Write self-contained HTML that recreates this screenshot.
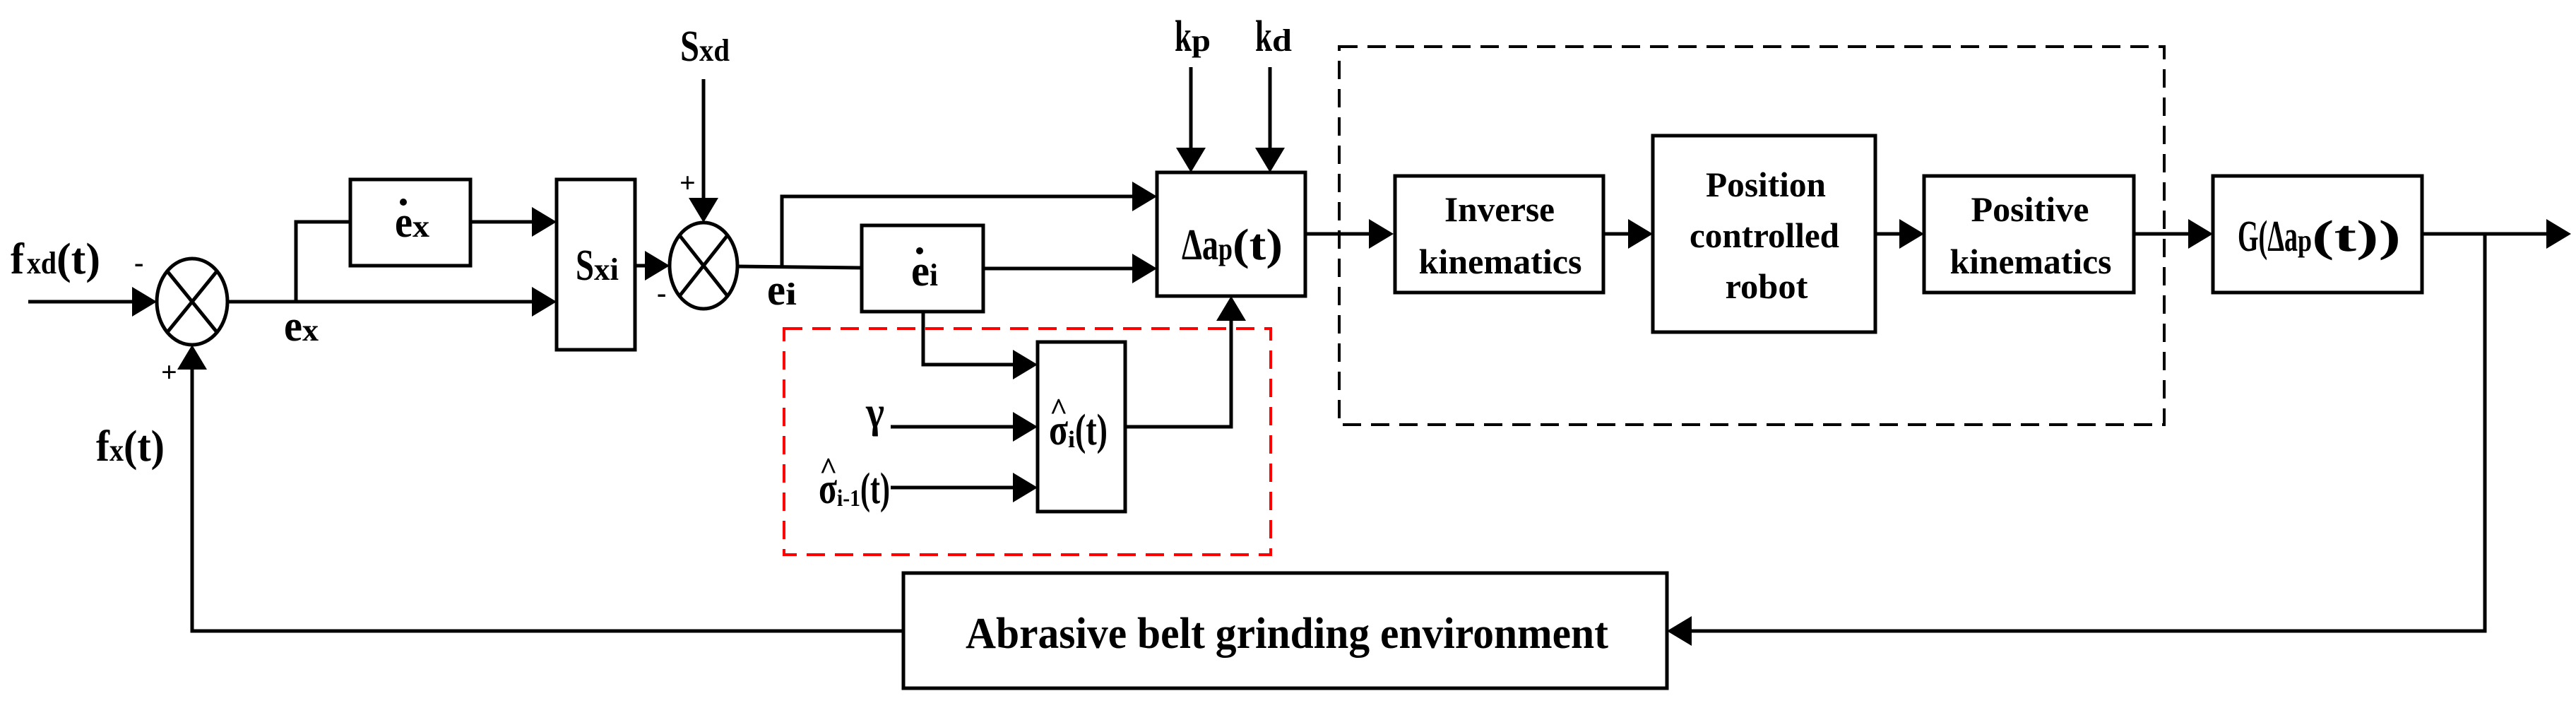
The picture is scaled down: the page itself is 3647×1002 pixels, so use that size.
<!DOCTYPE html>
<html><head><meta charset="utf-8"><style>html,body{margin:0;padding:0;background:#fff}svg{display:block}text{font-family:"Liberation Serif",serif;font-weight:bold;fill:#000}</style></head>
<body>
<svg width="3647" height="1002" viewBox="0 0 3647 1002" xmlns="http://www.w3.org/2000/svg">
<g fill="none" stroke="#000" stroke-width="5">
<!-- summing junctions -->
<ellipse cx="272" cy="427" rx="50" ry="61"/>
<line x1="237" y1="384" x2="307" y2="470"/><line x1="307" y1="384" x2="237" y2="470"/>
<ellipse cx="996" cy="376" rx="48" ry="61"/>
<line x1="962" y1="333" x2="1030" y2="419"/><line x1="1030" y1="333" x2="962" y2="419"/>
<!-- boxes -->
<rect x="496" y="254" width="170" height="122"/>
<rect x="788" y="254" width="111" height="241"/>
<rect x="1220" y="319" width="172" height="122"/>
<rect x="1638" y="244" width="210" height="175"/>
<rect x="1469" y="484" width="124" height="240"/>
<rect x="1975" y="249" width="295" height="165"/>
<rect x="2340" y="192" width="315" height="278"/>
<rect x="2724" y="249" width="297" height="165"/>
<rect x="3133" y="249" width="296" height="165"/>
<rect x="1279" y="811" width="1081" height="163"/>
<!-- lines -->
<polyline points="40,427 200,427"/>
<polyline points="322,427 760,427"/>
<polyline points="419,427 419,314 496,314"/>
<polyline points="666,314 760,314"/>
<polyline points="899,376 915,376"/>
<polyline points="996,112 996,285"/>
<polyline points="272,515 272,893 1279,893"/>
<polyline points="1044,377 1220,379"/>
<polyline points="1107,377 1107,278 1610,278"/>
<polyline points="1392,380 1610,380"/>
<polyline points="1686,95 1686,215"/><polyline points="1798,95 1798,215"/>
<polyline points="1307,441 1307,516 1440,516"/>
<polyline points="1261,604 1440,604"/>
<polyline points="1261,690 1440,690"/>
<polyline points="1593,604 1743,604 1743,448"/>
<polyline points="1848,331 1945,331"/>
<polyline points="2270,331 2310,331"/><polyline points="2655,331 2694,331"/><polyline points="3021,331 3103,331"/>
<polyline points="3429,331 3605,331"/>
<polyline points="3518,331 3518,893 2390,893"/>
</g>
<!-- dashed boxes -->
<rect x="1896" y="66" width="1168" height="535" fill="none" stroke="#000" stroke-width="4" stroke-dasharray="26,14"/>
<rect x="1110" y="465" width="689" height="320" fill="none" stroke="#f00" stroke-width="4" stroke-dasharray="26,14"/>
<!-- arrowheads -->
<g fill="#000">
<polygon points="222,427 187,406 187,448"/>
<polygon points="788,314 753,293 753,335"/>
<polygon points="788,427 753,406 753,448"/>
<polygon points="948,376 913,355 913,397"/>
<polygon points="996,315 975,280 1017,280"/>
<polygon points="272,488 251,523 293,523"/>
<polygon points="1638,278 1603,257 1603,299"/>
<polygon points="1638,380 1603,359 1603,401"/>
<polygon points="1686,244 1665,209 1707,209"/>
<polygon points="1798,244 1777,209 1819,209"/>
<polygon points="1743,419 1722,454 1764,454"/>
<polygon points="1469,516 1434,495 1434,537"/>
<polygon points="1469,604 1434,583 1434,625"/>
<polygon points="1469,690 1434,669 1434,711"/>
<polygon points="1973,331 1938,310 1938,352"/>
<polygon points="2340,331 2305,310 2305,352"/>
<polygon points="2724,331 2689,310 2689,352"/>
<polygon points="3133,331 3098,310 3098,352"/>
<polygon points="3640,331 3605,310 3605,352"/>
<polygon points="2360,893 2395,872 2395,914"/>
</g>
<!-- labels -->
<g font-size="62">
<text x="15" y="387" textLength="19" lengthAdjust="spacingAndGlyphs">f</text>
<text x="38" y="387" font-size="44" textLength="42" lengthAdjust="spacingAndGlyphs">xd</text>
<text x="80" y="387" textLength="62" lengthAdjust="spacingAndGlyphs">(t)</text>
<text x="190" y="385" font-size="40">-</text>
<text x="228" y="540" font-size="40">+</text>
<text x="136" y="652" textLength="19" lengthAdjust="spacingAndGlyphs">f</text>
<text x="155" y="652" font-size="44" textLength="20" lengthAdjust="spacingAndGlyphs">x</text>
<text x="175" y="652" textLength="58" lengthAdjust="spacingAndGlyphs">(t)</text>
<text x="402" y="482" textLength="26" lengthAdjust="spacingAndGlyphs">e</text>
<text x="428" y="482" font-size="44" textLength="23" lengthAdjust="spacingAndGlyphs">x</text>
<text x="559" y="335" textLength="25" lengthAdjust="spacingAndGlyphs">e</text>
<circle cx="571" cy="286" r="5" fill="#000"/>
<text x="584" y="335" font-size="44" textLength="24" lengthAdjust="spacingAndGlyphs">x</text>
<text x="815" y="396" textLength="26" lengthAdjust="spacingAndGlyphs">S</text>
<text x="841" y="396" font-size="44" textLength="35" lengthAdjust="spacingAndGlyphs">xi</text>
<text x="963" y="86" textLength="27" lengthAdjust="spacingAndGlyphs">S</text>
<text x="990" y="86" font-size="44" textLength="43" lengthAdjust="spacingAndGlyphs">xd</text>
<text x="930" y="428" font-size="40">-</text>
<text x="962" y="272" font-size="40">+</text>
<text x="1086" y="431" textLength="26" lengthAdjust="spacingAndGlyphs">e</text>
<text x="1112" y="431" font-size="44" textLength="16" lengthAdjust="spacingAndGlyphs">i</text>
<text x="1290" y="404" textLength="26" lengthAdjust="spacingAndGlyphs">e</text>
<circle cx="1302" cy="355" r="5" fill="#000"/>
<text x="1316" y="404" font-size="44" textLength="12" lengthAdjust="spacingAndGlyphs">i</text>
<text x="1673" y="367" textLength="52" lengthAdjust="spacingAndGlyphs">Δa</text>
<text x="1725" y="367" font-size="44" textLength="20" lengthAdjust="spacingAndGlyphs">p</text>
<text x="1745" y="367" textLength="71" lengthAdjust="spacingAndGlyphs">(t)</text>
<text x="1663" y="72" textLength="24" lengthAdjust="spacingAndGlyphs">k</text>
<text x="1687" y="72" font-size="44" textLength="27" lengthAdjust="spacingAndGlyphs">p</text>
<text x="1777" y="72" textLength="24" lengthAdjust="spacingAndGlyphs">k</text>
<text x="1801" y="72" font-size="44" textLength="28" lengthAdjust="spacingAndGlyphs">d</text>
<text x="1226" y="604" textLength="26" lengthAdjust="spacingAndGlyphs">γ</text>
<text x="1159" y="712" textLength="26" lengthAdjust="spacingAndGlyphs">σ</text>
<text x="1160" y="678" font-size="44">^</text>
<text x="1185" y="716" font-size="34" textLength="33" lengthAdjust="spacingAndGlyphs">i-1</text>
<text x="1218" y="712" textLength="42" lengthAdjust="spacingAndGlyphs">(t)</text>
<text x="1485" y="629" textLength="27" lengthAdjust="spacingAndGlyphs">σ</text>
<text x="1486" y="594" font-size="44">^</text>
<text x="1512" y="633" font-size="34" textLength="10" lengthAdjust="spacingAndGlyphs">i</text>
<text x="1522" y="629" textLength="46" lengthAdjust="spacingAndGlyphs">(t)</text>
<text x="3168" y="355" textLength="85" lengthAdjust="spacingAndGlyphs">G(Δa</text>
<text x="3253" y="355" font-size="44" textLength="20" lengthAdjust="spacingAndGlyphs">p</text>
<text x="3273" y="355" textLength="126" lengthAdjust="spacingAndGlyphs">(t))</text>
</g>
<g font-size="50" text-anchor="middle">
<text x="2123" y="313" textLength="156" lengthAdjust="spacingAndGlyphs">Inverse</text>
<text x="2124" y="387" textLength="231" lengthAdjust="spacingAndGlyphs">kinematics</text>
<text x="2500" y="278" textLength="170" lengthAdjust="spacingAndGlyphs">Position</text>
<text x="2498" y="350" textLength="212" lengthAdjust="spacingAndGlyphs">controlled</text>
<text x="2501" y="422" textLength="117" lengthAdjust="spacingAndGlyphs">robot</text>
<text x="2874" y="313" textLength="167" lengthAdjust="spacingAndGlyphs">Positive</text>
<text x="2875" y="387" textLength="229" lengthAdjust="spacingAndGlyphs">kinematics</text>
</g>
<text x="1367" y="917" font-size="62" textLength="910" lengthAdjust="spacingAndGlyphs">Abrasive belt grinding environment</text>
</svg>
</body></html>
